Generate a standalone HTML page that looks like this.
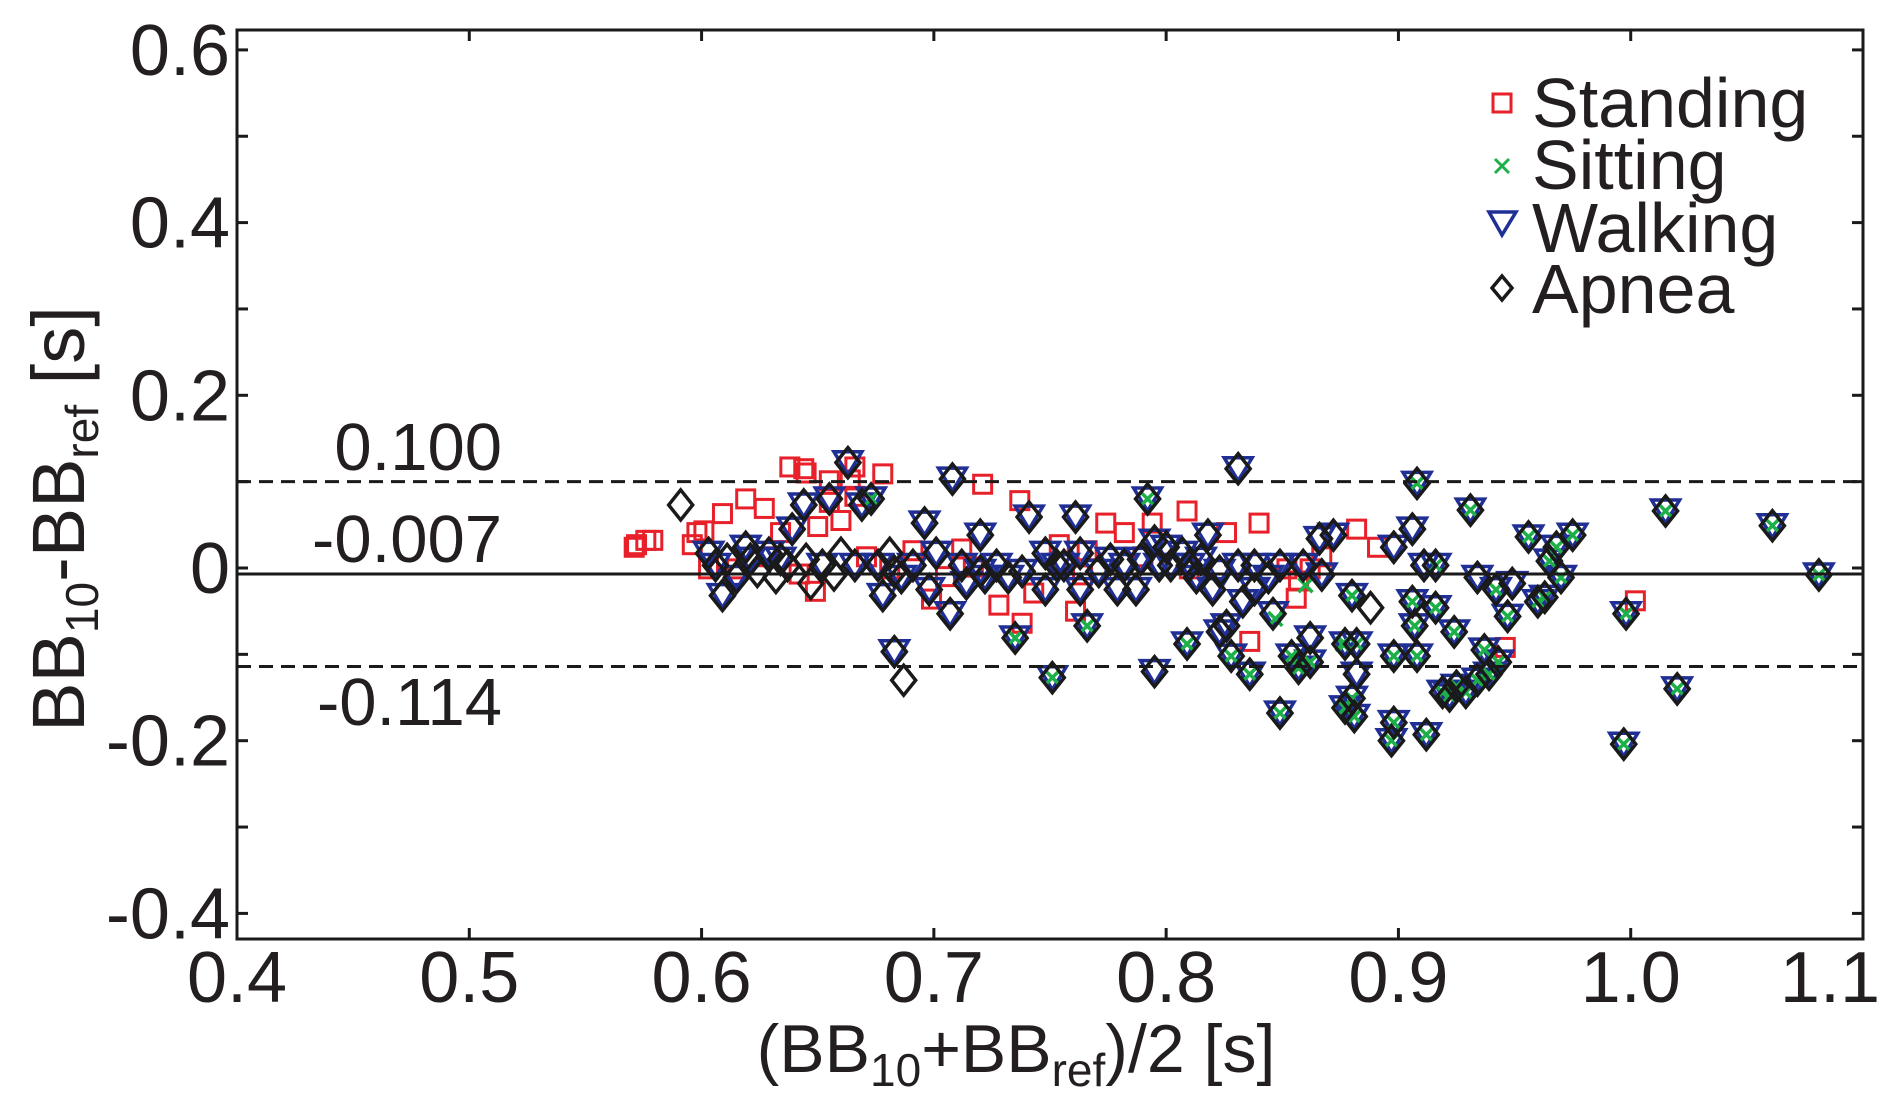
<!DOCTYPE html>
<html><head><meta charset="utf-8"><style>
html,body{margin:0;padding:0;background:#fff;}
svg{display:block;font-family:"Liberation Sans",Arial,sans-serif;}
</style></head><body>
<svg id="chart" width="1890" height="1112" viewBox="0 0 1890 1112" xmlns="http://www.w3.org/2000/svg">
<rect width="1890" height="1112" fill="#fff"/>
<g id="marks"></g>
<g id="axes"></g>
<g id="legend"></g>
</svg>
<script>
const xTicks = [0.4,0.5,0.6,0.7,0.8,0.9,1.0,1.1];
const xTickLabels = ["0.4","0.5","0.6","0.7","0.8","0.9","1.0","1.1"];
const yTicks = [0.6,0.4,0.2,0,-0.2,-0.4];
const yTickLabels = ["0.6","0.4","0.2","0","-0.2","-0.4"];
const yMinorTicks = [0.5,0.3,0.1,-0.1,-0.3];
const meanDiff = -0.007;
const upperLoA = 0.100;
const lowerLoA = -0.114;
const standing = [[0.571,0.024],[0.572,0.027],[0.576,0.032],[0.579,0.032],[0.596,0.027],[0.598,0.041],[0.601,0.043],[0.603,-0.001],[0.609,0.063],[0.619,0.080],[0.627,0.069],[0.638,0.117],[0.644,0.115],[0.645,0.110],[0.655,0.101],[0.664,0.102],[0.666,0.117],[0.678,0.109],[0.655,0.076],[0.666,0.083],[0.650,0.048],[0.649,-0.027],[0.699,-0.036],[0.705,-0.010],[0.721,0.097],[0.737,0.078],[0.754,0.027],[0.761,-0.050],[0.774,0.052],[0.782,0.041],[0.794,0.052],[0.809,0.066],[0.826,0.041],[0.840,0.052],[0.856,-0.035],[0.882,0.045],[0.891,0.024],[1.002,-0.038],[0.946,-0.092],[0.836,-0.085],[0.766,0.020],[0.738,-0.064],[0.743,-0.029],[0.691,0.020],[0.629,0.013],[0.634,0.041],[0.660,0.055],[0.790,0.013],[0.810,-0.001],[0.857,-0.015],[0.862,-0.001],[0.867,0.013],[0.852,-0.001],[0.728,-0.043],[0.764,-0.008],[0.717,0.001],[0.681,-0.001],[0.642,-0.007],[0.671,0.013],[0.712,0.022],[0.615,-0.001]];
const apnea = [[0.683,-0.097],[0.687,-0.130],[0.708,0.103],[0.751,-0.127],[0.795,-0.120],[0.792,0.080],[0.831,0.115],[0.908,0.098],[0.931,0.067],[0.849,-0.168],[0.877,-0.088],[0.882,-0.088],[0.897,-0.200],[0.912,-0.193],[0.922,-0.148],[0.929,-0.144],[0.934,-0.130],[0.943,-0.109],[0.947,-0.056],[0.956,0.036],[0.965,0.008],[0.975,0.038],[0.970,-0.011],[0.963,-0.034],[0.968,0.024],[1.015,0.066],[1.061,0.049],[1.081,-0.008],[0.998,-0.053],[0.997,-0.204],[1.020,-0.140],[0.898,-0.102],[0.906,-0.039],[0.911,0.003],[0.916,0.003],[0.898,0.024],[0.888,-0.046],[0.880,-0.032],[0.880,-0.151],[0.881,-0.172],[0.867,-0.008],[0.859,0.003],[0.854,-0.102],[0.857,-0.116],[0.862,-0.081],[0.836,-0.123],[0.828,-0.102],[0.826,-0.067],[0.820,-0.025],[0.813,-0.011],[0.809,-0.088],[0.818,0.038],[0.807,0.017],[0.800,0.024],[0.797,0.003],[0.795,0.031],[0.787,-0.025],[0.779,-0.025],[0.766,-0.067],[0.763,-0.025],[0.761,0.059],[0.756,0.003],[0.748,-0.025],[0.741,0.059],[0.735,-0.081],[0.732,-0.011],[0.727,0.003],[0.720,-0.004],[0.720,0.038],[0.712,0.003],[0.707,-0.053],[0.698,-0.025],[0.696,0.052],[0.691,0.003],[0.678,-0.032],[0.673,0.080],[0.669,0.073],[0.663,0.122],[0.655,0.080],[0.652,0.003],[0.644,0.073],[0.639,0.045],[0.634,0.010],[0.629,0.017],[0.621,0.010],[0.619,0.024],[0.615,-0.011],[0.609,-0.032],[0.606,0.003],[0.603,0.017],[0.591,0.073],[0.666,0.003],[0.676,0.003],[0.686,-0.011],[0.701,0.017],[0.714,-0.018],[0.722,-0.011],[0.738,-0.004],[0.748,0.017],[0.753,0.003],[0.763,0.017],[0.771,-0.004],[0.776,0.010],[0.782,0.003],[0.789,0.010],[0.802,0.003],[0.810,0.003],[0.815,0.010],[0.823,-0.004],[0.831,0.003],[0.838,0.003],[0.844,-0.011],[0.849,0.003],[0.833,-0.039],[0.838,-0.025],[0.846,-0.053],[0.866,0.034],[0.872,0.038],[0.906,0.045],[0.916,-0.046],[0.924,-0.074],[0.934,-0.011],[0.942,-0.025],[0.949,-0.018],[0.960,-0.039],[0.925,-0.137],[0.919,-0.144],[0.939,-0.123],[0.898,-0.179],[0.882,-0.123],[0.877,-0.162],[0.862,-0.109],[0.823,-0.074],[0.908,-0.102],[0.937,-0.095],[0.907,-0.067],[0.611,0.010],[0.624,-0.004],[0.632,-0.011],[0.637,0.003],[0.645,0.010],[0.647,-0.018],[0.657,-0.008],[0.660,0.017],[0.681,0.017],[0.683,-0.004]];
const walking = [[0.683,-0.097],[0.708,0.103],[0.751,-0.127],[0.795,-0.120],[0.792,0.080],[0.831,0.115],[0.908,0.098],[0.931,0.067],[0.849,-0.168],[0.877,-0.088],[0.882,-0.088],[0.897,-0.200],[0.912,-0.193],[0.922,-0.148],[0.929,-0.144],[0.934,-0.130],[0.943,-0.109],[0.947,-0.056],[0.956,0.036],[0.965,0.008],[0.975,0.038],[0.970,-0.011],[0.963,-0.034],[0.968,0.024],[1.015,0.066],[1.061,0.049],[1.081,-0.008],[0.998,-0.053],[0.997,-0.204],[1.020,-0.140],[0.898,-0.102],[0.906,-0.039],[0.911,0.003],[0.916,0.003],[0.898,0.024],[0.880,-0.032],[0.880,-0.151],[0.881,-0.172],[0.867,-0.008],[0.859,0.003],[0.854,-0.102],[0.857,-0.116],[0.862,-0.081],[0.836,-0.123],[0.828,-0.102],[0.826,-0.067],[0.820,-0.025],[0.813,-0.011],[0.809,-0.088],[0.818,0.038],[0.807,0.017],[0.800,0.024],[0.797,0.003],[0.795,0.031],[0.787,-0.025],[0.779,-0.025],[0.766,-0.067],[0.763,-0.025],[0.761,0.059],[0.756,0.003],[0.748,-0.025],[0.741,0.059],[0.735,-0.081],[0.732,-0.011],[0.727,0.003],[0.720,-0.004],[0.720,0.038],[0.712,0.003],[0.707,-0.053],[0.698,-0.025],[0.696,0.052],[0.691,0.003],[0.678,-0.032],[0.673,0.080],[0.669,0.073],[0.663,0.122],[0.655,0.080],[0.652,0.003],[0.644,0.073],[0.639,0.045],[0.634,0.010],[0.629,0.017],[0.621,0.010],[0.619,0.024],[0.615,-0.011],[0.609,-0.032],[0.606,0.003],[0.603,0.017],[0.666,0.003],[0.676,0.003],[0.686,-0.011],[0.701,0.017],[0.714,-0.018],[0.722,-0.011],[0.738,-0.004],[0.748,0.017],[0.753,0.003],[0.763,0.017],[0.771,-0.004],[0.776,0.010],[0.782,0.003],[0.789,0.010],[0.802,0.003],[0.810,0.003],[0.815,0.010],[0.823,-0.004],[0.831,0.003],[0.838,0.003],[0.844,-0.011],[0.849,0.003],[0.833,-0.039],[0.838,-0.025],[0.846,-0.053],[0.866,0.034],[0.872,0.038],[0.906,0.045],[0.916,-0.046],[0.924,-0.074],[0.934,-0.011],[0.942,-0.025],[0.949,-0.018],[0.960,-0.039],[0.925,-0.137],[0.919,-0.144],[0.939,-0.123],[0.898,-0.179],[0.882,-0.123],[0.877,-0.162],[0.862,-0.109],[0.823,-0.074],[0.908,-0.102],[0.937,-0.095],[0.907,-0.067]];
const sitting = [[0.751,-0.127],[0.792,0.080],[0.735,-0.081],[0.673,0.080],[0.908,0.098],[0.931,0.067],[0.849,-0.168],[0.877,-0.088],[0.882,-0.088],[0.897,-0.200],[0.912,-0.193],[0.922,-0.148],[0.929,-0.144],[0.934,-0.130],[0.943,-0.109],[0.947,-0.056],[0.956,0.036],[0.965,0.008],[0.975,0.038],[0.970,-0.011],[0.963,-0.034],[0.968,0.024],[1.015,0.066],[1.061,0.049],[1.081,-0.008],[0.998,-0.053],[0.997,-0.204],[1.020,-0.140],[0.898,-0.102],[0.906,-0.039],[0.916,0.003],[0.880,-0.151],[0.881,-0.172],[0.854,-0.102],[0.857,-0.116],[0.836,-0.123],[0.828,-0.102],[0.809,-0.088],[0.766,-0.067],[0.925,-0.137],[0.919,-0.144],[0.939,-0.123],[0.898,-0.179],[0.877,-0.162],[0.862,-0.109],[0.908,-0.102],[0.937,-0.095],[0.907,-0.067],[0.876,-0.088],[0.847,-0.059],[0.916,-0.046],[0.924,-0.074],[0.960,-0.039],[0.942,-0.025],[0.860,-0.020],[0.880,-0.032]];

const NS = "http://www.w3.org/2000/svg";
const L = 237, R = 1863, T = 30, B = 939;
const xMin = 0.4, xMax = 1.1;
const y0px = 568, yPerUnit = 863.5;
function xs(v){ return L + (v - xMin) / (xMax - xMin) * (R - L); }
function ys(v){ return y0px - v * yPerUnit; }
function el(tag, attrs, parent){ const e = document.createElementNS(NS, tag); for (const k in attrs) e.setAttribute(k, attrs[k]); parent.appendChild(e); return e; }

const marks = document.getElementById('marks');
const axes = document.getElementById('axes');

function sq(cx, cy, s, parent){ return el('rect', {x: cx - s/2, y: cy - s/2, width: s, height: s, fill: 'none', stroke: '#e8202a', 'stroke-width': 3}, parent); }
function tri(cx, cy, w, parent){ return el('polygon', {points: (cx - w/2) + ',' + (cy - w*0.32) + ' ' + (cx + w/2) + ',' + (cy - w*0.32) + ' ' + cx + ',' + (cy + w*0.5), fill: 'none', stroke: '#1f2f95', 'stroke-width': 3.5}, parent); }
function cross(cx, cy, s, parent){ return el('path', {d: 'M' + (cx - s) + ' ' + (cy - s) + 'L' + (cx + s) + ' ' + (cy + s) + 'M' + (cx + s) + ' ' + (cy - s) + 'L' + (cx - s) + ' ' + (cy + s), stroke: '#1daf48', 'stroke-width': 3.5, fill: 'none'}, parent); }
function dia(cx, cy, w, h, parent){ return el('polygon', {points: cx + ',' + (cy - h) + ' ' + (cx + w) + ',' + cy + ' ' + cx + ',' + (cy + h) + ' ' + (cx - w) + ',' + cy, fill: 'none', stroke: '#1a1a1a', 'stroke-width': 3.5}, parent); }

const lines = [[upperLoA, '14,8', 'upper-limit-line'], [lowerLoA, '14,8', 'lower-limit-line'], [meanDiff, null, 'mean-difference-line']];
lines.forEach(function(d){
  const a = {x1: L, x2: R, y1: ys(d[0]), y2: ys(d[0]), stroke: '#1a1a1a', 'stroke-width': 3};
  if (d[1]) a['stroke-dasharray'] = d[1];
  const ln = el('line', a, axes);
  
  
});

standing.forEach(function(p){
  const m = sq(xs(p[0]), ys(p[1]), 18, marks);
  
  
});
walking.forEach(function(p){
  const m = tri(xs(p[0]), ys(p[1]) - 2, 28, marks);
  
  
});
sitting.forEach(function(p){
  const m = cross(xs(p[0]), ys(p[1]), 7, marks);
  
  
});
apnea.forEach(function(p){
  const m = dia(xs(p[0]), ys(p[1]), 12, 15, marks);
  
  
});

const frame = el('rect', {x: L, y: T, width: R - L, height: B - T, fill: 'none', stroke: '#1a1a1a', 'stroke-width': 3}, axes);



xTicks.forEach(function(v, i){
  const x = xs(v);
  const t1 = el('line', {x1: x, x2: x, y1: B, y2: B - 11, stroke: '#1a1a1a', 'stroke-width': 3}, axes);
  
  
  const t2 = el('line', {x1: x, x2: x, y1: T, y2: T + 11, stroke: '#1a1a1a', 'stroke-width': 3}, axes);
  
  
  const last = i === xTicks.length - 1;
  const tx = el('text', {x: last ? 1880 : x, y: 1002, 'font-size': 72, 'text-anchor': last ? 'end' : 'middle', fill: '#231f20'}, axes);
  tx.textContent = xTickLabels[i];
  
  
});
yTicks.concat(yMinorTicks).forEach(function(v){
  const y = ys(v);
  const t1 = el('line', {x1: L, x2: L + 11, y1: y, y2: y, stroke: '#1a1a1a', 'stroke-width': 3}, axes);
  
  
  const t2 = el('line', {x1: R, x2: R - 11, y1: y, y2: y, stroke: '#1a1a1a', 'stroke-width': 3}, axes);
  
  
});
yTicks.forEach(function(v, i){
  const ty = el('text', {x: 230, y: ys(v) + 25, 'font-size': 72, 'text-anchor': 'end', fill: '#231f20'}, axes);
  ty.textContent = yTickLabels[i];
  
  
});

[[upperLoA, 470, 'upper-limit-label'], [meanDiff, 562, 'mean-label'], [lowerLoA, 725, 'lower-limit-label']].forEach(function(d){
  const t = el('text', {x: 502, y: d[1], 'font-size': 67, 'text-anchor': 'end', fill: '#231f20'}, axes);
  t.textContent = d[0].toFixed(3);
  
  
});
</script>
<svg style="position:absolute;left:0;top:0" width="1890" height="1112" xmlns="http://www.w3.org/2000/svg">
<text transform="translate(84,519) rotate(-90)" text-anchor="middle" font-family="Liberation Sans, sans-serif" font-size="74" fill="#231f20">BB<tspan font-size="46" dy="14">10</tspan><tspan dy="-14">-BB</tspan><tspan font-size="46" dy="14">ref</tspan><tspan dy="-14"> [s]</tspan></text>
<text x="1016" y="1072" text-anchor="middle" font-family="Liberation Sans, sans-serif" font-size="68" fill="#231f20">(BB<tspan font-size="46" dy="14">10</tspan><tspan dy="-14">+BB</tspan><tspan font-size="46" dy="14">ref</tspan><tspan dy="-14">)/2 [s]</tspan></text>
<g><rect x="1493" y="94" width="18" height="18" fill="none" stroke="#e8202a" stroke-width="3"/><text x="1532" y="127" font-family="Liberation Sans, sans-serif" font-size="70" fill="#231f20">Standing</text></g>
<g><path d="M1495 159L1509 173M1509 159L1495 173" stroke="#1daf48" stroke-width="3"/><text x="1532" y="189" font-family="Liberation Sans, sans-serif" font-size="70" fill="#231f20">Sitting</text></g>
<g><polygon points="1489,212 1516,212 1502,235" fill="none" stroke="#1f2f95" stroke-width="3.5"/><text x="1532" y="252" font-family="Liberation Sans, sans-serif" font-size="70" fill="#231f20">Walking</text></g>
<g><polygon points="1502,276 1512,288 1502,300 1492,288" fill="none" stroke="#1a1a1a" stroke-width="3.5"/><text x="1532" y="313" font-family="Liberation Sans, sans-serif" font-size="70" fill="#231f20">Apnea</text></g>
</svg>
</body></html>
